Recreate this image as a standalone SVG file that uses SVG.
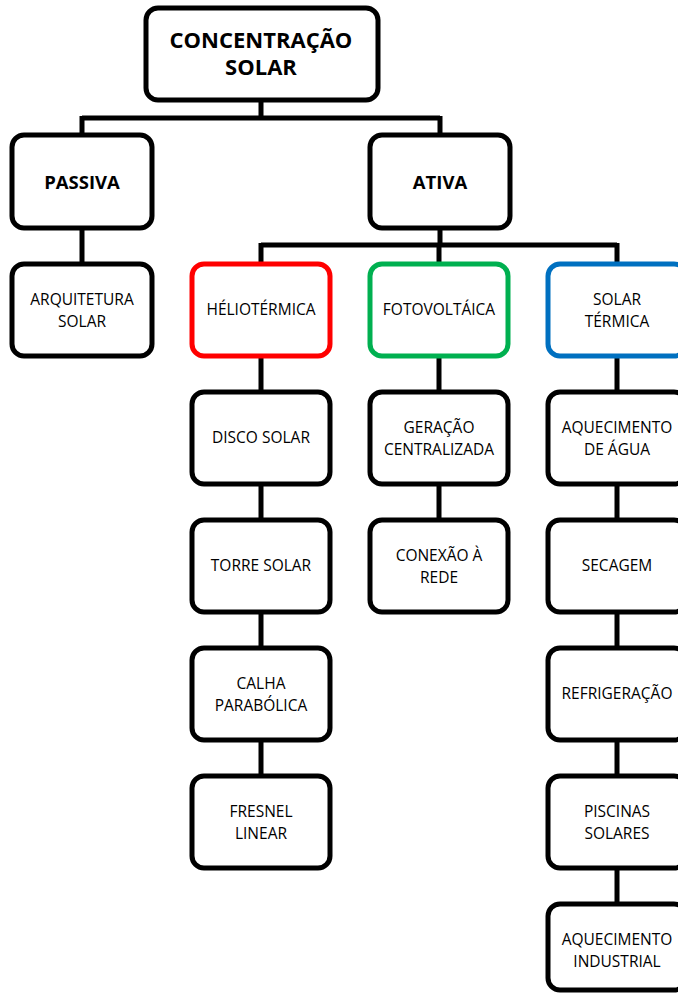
<svg xmlns="http://www.w3.org/2000/svg" width="678" height="994" viewBox="0 0 678 994">
<style>
.box{fill:#fff;stroke:#000;stroke-width:5}
.red{stroke:#ff0000}
.green{stroke:#00b050}
.blue{stroke:#0070c0}
.t{font-family:"Open Sans","Liberation Sans",sans-serif;font-size:15.5px;fill:#000;text-anchor:middle}
.b{font-weight:bold;font-size:18.5px}
.big{font-weight:bold;font-size:22px}
.c{fill:none;stroke:#000;stroke-width:5}
</style>
<rect width="678" height="994" fill="#fff"/>
<g id="connectors">
<path class="c" d="M261 100V118M82 118H440M82 116V135M440 116V135M82 228V263"/>
<path class="c" d="M440 228V245M261 245H617M261 243V263M439 243V263M617 243V263"/>
<path class="c" d="M261 356V392M261 484V520M261 612V648M261 740V776"/>
<path class="c" d="M439 356V392M439 484V520"/>
<path class="c" d="M617 356V392M617 484V520M617 612V648M617 740V776M617 868V904"/>
</g>
<g id="concentracao"><rect class="box" x="146" y="8" width="232" height="92" rx="12"/><text class="t big" x="261" y="48">CONCENTRAÇÃO</text><text class="t big" x="261" y="75">SOLAR</text></g>
<g id="passiva"><rect class="box" x="12" y="135" width="140" height="93" rx="12"/><text class="t b" x="82" y="189">PASSIVA</text></g>
<g id="ativa"><rect class="box" x="370" y="135" width="140" height="93" rx="12"/><text class="t b" x="440" y="189">ATIVA</text></g>
<g id="arquitetura"><rect class="box" x="12" y="264" width="140" height="92" rx="12"/><text class="t" x="82" y="305">ARQUITETURA</text><text class="t" x="82" y="327">SOLAR</text></g>
<g id="heliotermica"><rect class="box red" x="192" y="264" width="138" height="92" rx="12"/><text class="t" x="261" y="315">HÉLIOTÉRMICA</text></g>
<g id="fotovoltaica"><rect class="box green" x="370" y="264" width="138" height="92" rx="12"/><text class="t" x="439" y="315">FOTOVOLTÁICA</text></g>
<g id="solartermica"><rect class="box blue" x="548" y="264" width="138" height="92" rx="12"/><text class="t" x="617" y="305">SOLAR</text><text class="t" x="617" y="327">TÉRMICA</text></g>
<g id="disco"><rect class="box" x="192" y="392" width="138" height="92" rx="12"/><text class="t" x="261" y="443">DISCO SOLAR</text></g>
<g id="torre"><rect class="box" x="192" y="520" width="138" height="92" rx="12"/><text class="t" x="261" y="571">TORRE SOLAR</text></g>
<g id="calha"><rect class="box" x="192" y="648" width="138" height="92" rx="12"/><text class="t" x="261" y="689">CALHA</text><text class="t" x="261" y="711">PARABÓLICA</text></g>
<g id="fresnel"><rect class="box" x="192" y="776" width="138" height="92" rx="12"/><text class="t" x="261" y="817">FRESNEL</text><text class="t" x="261" y="839">LINEAR</text></g>
<g id="geracao"><rect class="box" x="370" y="392" width="138" height="92" rx="12"/><text class="t" x="439" y="433">GERAÇÃO</text><text class="t" x="439" y="455">CENTRALIZADA</text></g>
<g id="conexao"><rect class="box" x="370" y="520" width="138" height="92" rx="12"/><text class="t" x="439" y="561">CONEXÃO À</text><text class="t" x="439" y="583">REDE</text></g>
<g id="aquecimento"><rect class="box" x="548" y="392" width="138" height="92" rx="12"/><text class="t" x="617" y="433">AQUECIMENTO</text><text class="t" x="617" y="455">DE ÁGUA</text></g>
<g id="secagem"><rect class="box" x="548" y="520" width="138" height="92" rx="12"/><text class="t" x="617" y="571">SECAGEM</text></g>
<g id="refrigeracao"><rect class="box" x="548" y="648" width="138" height="92" rx="12"/><text class="t" x="617" y="699">REFRIGERAÇÃO</text></g>
<g id="piscinas"><rect class="box" x="548" y="776" width="138" height="92" rx="12"/><text class="t" x="617" y="817">PISCINAS</text><text class="t" x="617" y="839">SOLARES</text></g>
<g id="industrial"><rect class="box" x="548" y="904" width="138" height="86" rx="12"/><text class="t" x="617" y="945">AQUECIMENTO</text><text class="t" x="617" y="967">INDUSTRIAL</text></g>
</svg>
